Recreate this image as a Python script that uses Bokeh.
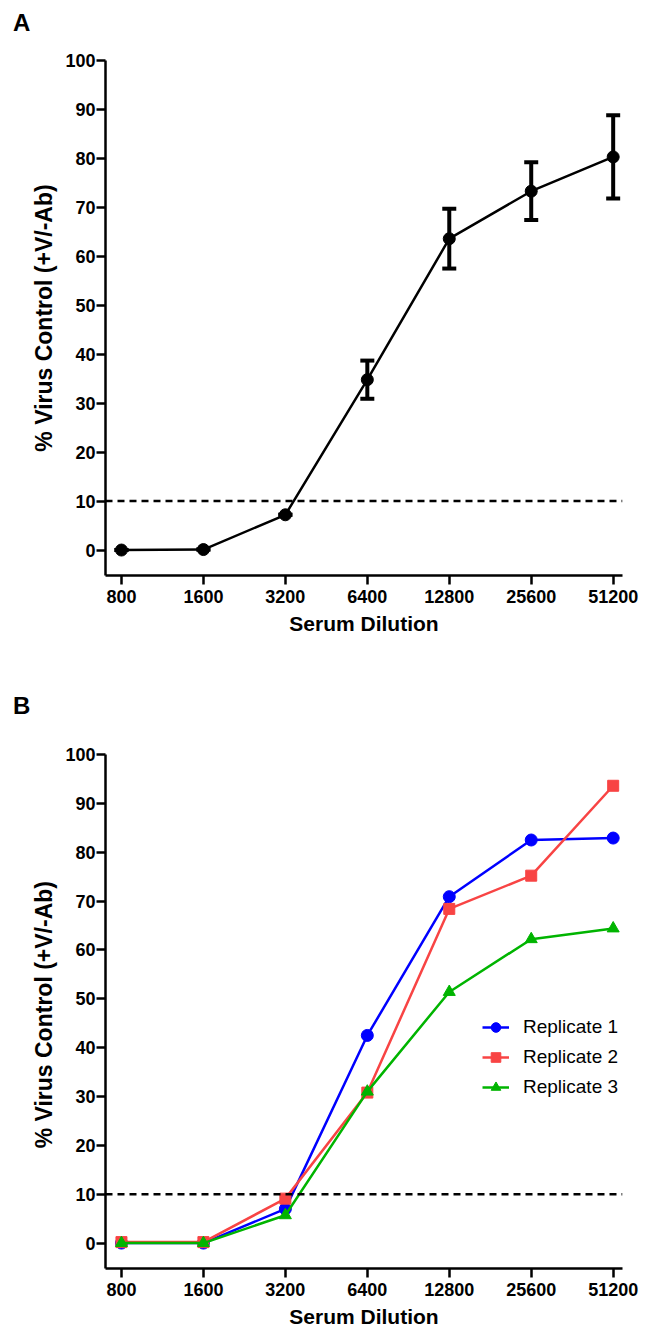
from bokeh.plotting import figure
from bokeh.models import (ColumnDataSource, Whisker, TeeHead, Span, FixedTicker, Legend,
                          LegendItem, Div)
from bokeh.layouts import column
from bokeh.embed import file_html
from bokeh.resources import INLINE

dilutions = [800, 1600, 3200, 6400, 12800, 25600, 51200]
tick_labels = ["800", "1600", "3200", "6400", "12800", "25600", "51200"]

mean_pct = [0.0, 0.1, 7.2, 34.8, 63.6, 73.3, 80.3]
sem_pct = [0.0, 0.0, 0.0, 3.9, 6.1, 5.9, 8.5]

rep1 = [0.0, 0.0, 7.0, 42.5, 70.9, 82.5, 82.9]
rep2 = [0.2, 0.2, 9.1, 30.8, 68.4, 75.2, 93.6]
rep3 = [0.0, 0.0, 5.7, 31.0, 51.4, 62.2, 64.4]

threshold = 10

FONT = "'Liberation Sans', Arial, sans-serif"


def panel_label(text, height, top):
    html = ("<div style=\"position:relative; top:%dpx; left:13px; "
            "font-family:'Liberation Sans', Arial, sans-serif; font-size:24px; "
            "font-weight:bold; line-height:24px; color:black;\">%s</div>" % (top, text))
    return Div(text=html, width=651, height=height, margin=0)


def make_fig(height, top, bottom, ytitle):
    p = figure(width=651, height=height, x_axis_type="log",
               x_range=(699, 55400), y_range=(-5.2, 100),
               output_backend="svg", toolbar_location=None,
               min_border_left=105, min_border_right=29,
               min_border_top=top, min_border_bottom=bottom, margin=0)
    p.outline_line_color = None
    p.grid.visible = False
    p.background_fill_color = "white"
    p.border_fill_color = "white"

    xa = p.xaxis[0]
    xa.ticker = FixedTicker(ticks=dilutions)
    xa.major_label_overrides = {d: t for d, t in zip(dilutions, tick_labels)}
    xa.axis_label = "Serum Dilution"
    ya = p.yaxis[0]
    ya.ticker = FixedTicker(ticks=list(range(0, 101, 10)))
    ya.axis_label = ytitle
    for ax in (xa, ya):
        ax.axis_line_width = 2.5
        ax.axis_line_color = "black"
        ax.major_tick_line_width = 2.5
        ax.major_tick_out = 9
        ax.major_tick_in = 0
        ax.minor_tick_out = 0
        ax.minor_tick_in = 0
        ax.major_label_text_font = FONT
        ax.major_label_text_font_style = "bold"
        ax.major_label_text_font_size = "18px"
        ax.major_label_text_color = "black"
        ax.axis_label_text_font = FONT
        ax.axis_label_text_font_style = "bold"
        ax.axis_label_text_font_size = "21px"
        ax.axis_label_text_color = "black"
    ya.axis_label_text_font_size = "23px"
    xa.major_label_standoff = 5
    xa.axis_label_standoff = 6
    ya.major_label_standoff = 1
    ya.axis_label_standoff = 5

    p.add_layout(Span(location=threshold, dimension="width", line_color="black",
                      line_width=2.5, line_dash="7 5"))
    return p


# Panel A
lab_a = panel_label("A", 40, 11)
pa = make_fig(610, 20, 75, "% Virus Control (+V/-Ab)")
lower = [m - s for m, s in zip(mean_pct, sem_pct)]
upper = [m + s for m, s in zip(mean_pct, sem_pct)]
src_a = ColumnDataSource(dict(x=dilutions, y=mean_pct, lo=lower, hi=upper))
pa.line("x", "y", source=src_a, line_color="black", line_width=2.5)
wh = Whisker(source=src_a, base="x", lower="lo", upper="hi", dimension="height",
             line_width=4, line_color="black",
             upper_head=TeeHead(size=14, line_width=4, line_color="black"),
             lower_head=TeeHead(size=14, line_width=4, line_color="black"))
pa.add_layout(wh)
pa.scatter("x", "y", source=src_a, size=12, marker="circle", color="black")

# Panel B
lab_b = panel_label("B", 72, 44)
pb = make_fig(608, 32, 59, "% Virus Control  (+V/-Ab)")
series = [("Replicate 1", rep1, "#0000FF", "circle", 12),
          ("Replicate 2", rep2, "#F84444", "square", 11),
          ("Replicate 3", rep3, "#00B400", "triangle", 12)]
items = []
for name, vals, col, mk, sz in series:
    src = ColumnDataSource(dict(x=dilutions, y=vals))
    r1 = pb.line("x", "y", source=src, line_color=col, line_width=2.5)
    r2 = pb.scatter("x", "y", source=src, marker=mk, size=sz, color=col)
    items.append(LegendItem(label=name, renderers=[r1, r2]))
leg = Legend(items=items, location=(377, 169), border_line_color=None,
             background_fill_alpha=0, label_text_font=FONT,
             label_text_font_size="19px", label_text_color="black",
             glyph_width=27, glyph_height=24, spacing=6,
             padding=0, label_standoff=14)
pb.add_layout(leg)

layout = column(lab_a, pa, lab_b, pb, spacing=0)
open("out.html", "w").write(file_html(layout, INLINE))
